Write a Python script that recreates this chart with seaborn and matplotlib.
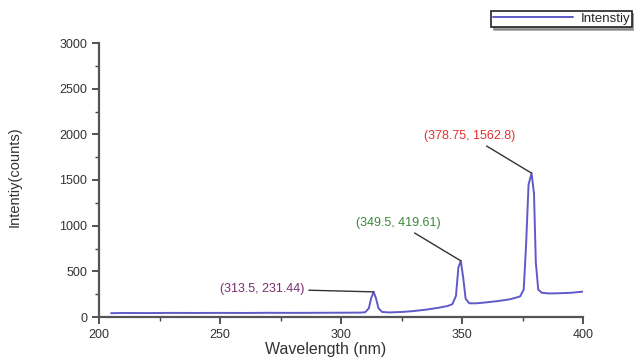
import numpy as np
import pandas as pd
import matplotlib
matplotlib.use("Agg")
import matplotlib.pyplot as plt
import seaborn as sns
from matplotlib.ticker import MultipleLocator

# spectrum
wavelength = [205, 210, 220, 230, 240, 250, 260, 270, 280, 290, 300, 308,
              310, 311.5, 312.5, 313.5, 314.5, 315.5, 317, 320, 325, 330,
              335, 340, 344, 346, 347.5, 348.5, 349.5, 350.5, 351.5, 353,
              356, 360, 365, 370, 374, 375.5, 376.5, 377.5, 378.75, 379.75,
              380.5, 381.5, 383, 386, 390, 395, 400]
intensity = [42, 44, 43, 45, 44, 45, 44, 46, 45, 46, 47, 48,
             52, 95, 210, 275, 200, 95, 55, 50, 55, 65,
             80, 100, 120, 140, 230, 540, 615, 430, 200, 150,
             150, 160, 175, 195, 225, 300, 800, 1450, 1575, 1350,
             600, 300, 265, 258, 260, 265, 278]

peak_x = [313.5, 349.5, 378.75]
peak_y = [275, 615, 1575]
peak_labels = ["(313.5, 231.44)", "(349.5, 419.61)", "(378.75, 1562.8)"]
label_pos = [(262, 289), (398, 223), (470, 136)]  # figure pixels, from top
label_colors = ["#7b2d6e", "#3a8a3a", "#e03030"]

df = pd.DataFrame({"Wavelength": wavelength, "Intensity": intensity})

sns.set_style("white")
plt.rcParams["font.family"] = ["Liberation Sans", "DejaVu Sans"]

W, H = 634, 358
fig = plt.figure(figsize=(W / 100, H / 100), dpi=100)
ax = fig.add_axes([99 / W, 1 - 317 / H, (583 - 99) / W, (317 - 43) / H])

sns.lineplot(data=df, x="Wavelength", y="Intensity", ax=ax,
             color="#5f5ac8", lw=1.4, label="Intenstiy", legend=False)

ax.set_xlim(200, 400)
ax.set_ylim(0, 3000)
ax.xaxis.set_major_locator(MultipleLocator(50))
ax.xaxis.set_minor_locator(MultipleLocator(25))
ax.yaxis.set_major_locator(MultipleLocator(500))
ax.yaxis.set_minor_locator(MultipleLocator(250))
ax.tick_params(which="major", direction="out", length=5, width=1.3,
               color="#444444", labelsize=9, bottom=True, left=True,
               labelcolor="#333333")
ax.tick_params(which="minor", direction="out", length=3, width=1.0,
               color="#444444", bottom=True, left=True)
for s in ["top", "right"]:
    ax.spines[s].set_visible(False)
for s in ["left", "bottom"]:
    ax.spines[s].set_color("#555555")
    ax.spines[s].set_linewidth(1.6)

ax.set_xlabel("Wavelength (nm)", fontsize=11.5, color="#333333")
ax.xaxis.set_label_coords((326 - 99) / 484, (317 - 342) / 274)
ax.set_ylabel("Intentiy(counts)", fontsize=10.5, color="#333333")
ax.yaxis.set_label_coords((22 - 99) / 484, (317 - 177) / 274)

for (px, py), txt, col, xv, yv in zip(label_pos, peak_labels, label_colors,
                                       peak_x, peak_y):
    ax.annotate(txt, xy=(xv, yv), xycoords="data",
                xytext=(px / W, 1 - py / H), textcoords="figure fraction",
                ha="center", va="center", fontsize=9, color=col,
                arrowprops=dict(arrowstyle="-", color="#333333", lw=1.0,
                                shrinkA=1, shrinkB=0))

leg = fig.legend(handles=ax.get_lines()[:1], labels=["Intenstiy"],
                 loc="upper right", bbox_to_anchor=(0.997, 0.97),
                 frameon=True, fancybox=False, shadow=True, fontsize=9.5,
                 handlelength=6.0, borderpad=0.15, handletextpad=0.6,
                 borderaxespad=0)
leg.get_frame().set_edgecolor("#222222")
leg.get_frame().set_linewidth(1.2)

fig.savefig("out.png", dpi=100)
